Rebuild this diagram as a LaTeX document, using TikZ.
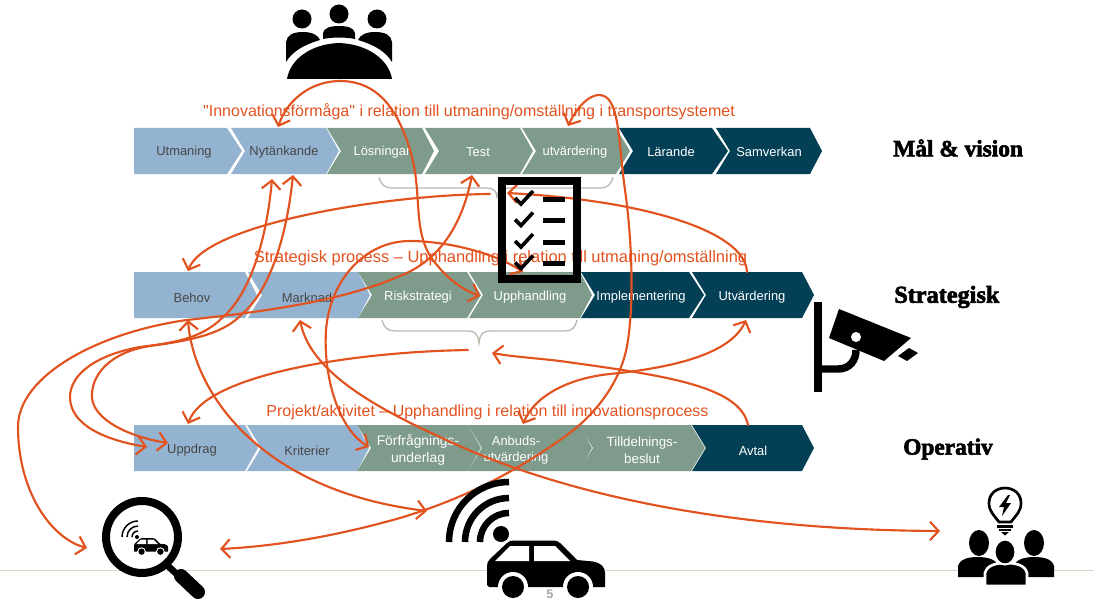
\documentclass[tikz,border=0pt]{standalone}
\usepackage{fontspec}
\setmainfont{Liberation Sans}
\newfontfamily\qfont{Liberation Sans}
\newfontfamily\labfont[FakeBold=2.6]{Liberation Serif Bold}
\usetikzlibrary{arrows.meta}
\definecolor{cblue}{HTML}{94B3D0}
\definecolor{cgreen}{HTML}{7F9B8C}
\definecolor{cdark}{HTML}{033F55}
\definecolor{corange}{HTML}{E2521F}
\definecolor{cbrace}{HTML}{BDB8B0}
\definecolor{crule}{HTML}{DAD7C5}
\tikzset{
  BL/.style={fill=cblue}, GR/.style={fill=cgreen}, DK/.style={fill=cdark},
  BLT/.style={text=black!72}, GRT/.style={text=white}, DKT/.style={text=white},
  lab/.style={font=\fontsize{9.7}{12.2}\selectfont,align=center,inner sep=0pt},
  title/.style={font=\fontsize{12}{14}\selectfont,text=corange,inner sep=0pt},
  side/.style={font=\labfont\fontsize{17.5}{20}\selectfont,anchor=west,inner sep=0pt},
  link/.style={draw=corange,line width=1.6pt,line cap=round,line join=round},
  both/.style={link,{Straight Barb[length=6.5pt,width=14pt]}-{Straight Barb[length=6.5pt,width=14pt]}},
  toend/.style={link,-{Straight Barb[length=6.5pt,width=14pt]}},
  bracep/.style={draw=cbrace,line width=1pt},
  ink/.style={fill=black},
}
% [notch]{left}{shoulder}{tip}{top}{style}
\newcommand{\chev}[6][14]{%
  \fill[#6] (#2,#5) -- (#3,#5) -- (#4,#5+23) -- (#3,#5+46) -- (#2,#5+46) -- (#2+#1,#5+23) -- cycle;
}
\newcommand{\carshape}{%
  \fill[ink] (0,45) -- (0,26) .. controls (0,23) and (1,21) .. (3,19) -- (20,3) .. controls (22,1) and (24,0.5) .. (27,0.5) -- (66,0.5) .. controls (69,0.5) and (71,1) .. (73,3) -- (90,20) -- (106,21.5) .. controls (114,23) and (118,27) .. (118,33) -- (118,47) -- (2,47) -- cycle;
  \fill[white] (8,21) -- (23,6) -- (42,6) -- (42,21) -- cycle;
  \fill[white] (47,6) -- (68,6) -- (83,21) -- (47,21) -- cycle;
  \fill[white] (26,47) circle[radius=15];
  \fill[white] (91,47) circle[radius=15];
  \fill[ink] (26,47) circle[radius=11];
  \fill[ink] (91,47) circle[radius=11];
}
\begin{document}
\begin{tikzpicture}[x=0.75pt,y=-0.75pt]
\useasboundingbox (0,0) rectangle (1094,606);
% footer
\draw[crule,line width=0.9pt] (0,570.5) -- (1094,570.5);
\node[inner sep=0pt,text=black!35,font=\bfseries\fontsize{9.5}{11}\selectfont] (pageno) at (550,594) {5};
% row 1
\chev[0]{134}{227}{242}{128}{BL}
\chev{231}{326}{339}{128}{BL}
\chev{327}{422}{434}{128}{GR}
\chev{425}{520}{533}{128}{GR}
\chev{522}{616}{630}{128}{GR}
\chev{619}{712}{728}{128}{DK}
\chev{716}{810}{822}{128}{DK}
% row 2
\chev[0]{134}{245}{257}{272}{BL}
\chev{248}{358}{370}{272}{BL}
\chev{358}{467}{481}{272}{GR}
\chev{469}{580}{592}{272}{GR}
\chev{581}{689}{704}{272}{DK}
\chev{692}{802}{814}{272}{DK}
% row 3
\chev[0]{134}{245}{258}{425}{BL}
\chev{247}{357}{369}{425}{BL}
\chev{357}{468}{481}{425}{GR}
\chev{468}{580}{592}{425}{GR}
\chev{579}{691}{705}{425}{GR}
\chev{692}{802}{814}{425}{DK}
% chevron labels
\node[lab,BLT] (Utmaning) at (184,152) {Utmaning};
\node[lab,BLT] (Nytankande) at (284,152) {Nytänkande};
\node[lab,GRT] (Losningar) at (382,152) {Lösningar};
\node[lab,GRT] (Test) at (478,152) {Test};
\node[lab,GRT] (utvardering) at (575,152) {utvärdering};
\node[lab,DKT] (Larande) at (671,152) {Lärande};
\node[lab,DKT] (Samverkan) at (769,152) {Samverkan};
\node[lab,BLT] (Behov) at (192,297.5) {Behov};
\node[lab,BLT] (Marknad) at (307,297.5) {Marknad};
\node[lab,GRT] (Riskstrategi) at (418,297.5) {Riskstrategi};
\node[lab,GRT] (Upphandling) at (530,297.5) {Upphandling};
\node[lab,DKT] (Implementering) at (641,297.5) {Implementering};
\node[lab,DKT] (Utvardering) at (752,297.5) {Utvärdering};
\node[lab,BLT] (Uppdrag) at (192,450.5) {Uppdrag};
\node[lab,BLT] (Kriterier) at (307,450.5) {Kriterier};
\node[lab,GRT,font=\fontsize{10.4}{12.4}\selectfont] (Forfragnings) at (418,450) {Förfrågnings-\\underlag};
\node[lab,GRT] (Anbuds) at (516,450) {Anbuds-\\utvärdering};
\node[lab,GRT,font=\fontsize{10}{12.4}\selectfont] (Tilldelnings) at (642,450) {Tilldelnings-\\beslut};
\node[lab,DKT] (Avtal) at (753,450.5) {Avtal};
% titles
\node[title] (t1) at (469,112) {{\qfont"}Innovationsförmåga{\qfont"} i relation till utmaning/omställning i transportsystemet};
\node[title,font=\fontsize{12.35}{14}\selectfont] (t2) at (500.5,258) {Strategisk process – Upphandling i relation till utmaning/omställning};
\node[title] (t3) at (487.5,412) {Projekt/aktivitet – Upphandling i relation till innovationsprocess};
% side labels
\node[side] (Mal) at (893,148) {Mål \& vision};
\node[side,font=\labfont\fontsize{18.2}{20}\selectfont] (Strat) at (894,297) {Strategisk};
\node[side] (Oper) at (903,449) {Operativ};
% braces
\draw[bracep] (379,177) .. controls (381,185) and (385,188) .. (392,188) -- (486,188) .. controls (493,188) and (496,190) .. (497,197) .. controls (498,190) and (501,188) .. (508,188) -- (600,188) .. controls (607,188) and (611,185) .. (613,177);
\draw[bracep] (382,320) .. controls (384,328) and (388,331) .. (395,331) -- (468,331) .. controls (475,331) and (478,334) .. (479,343) .. controls (480,334) and (483,331) .. (490,331) -- (565,331) .. controls (572,331) and (575,328) .. (577,320);
% connector ends
\coordinate (eNytTop) at (278,127);
\coordinate (eUpph) at (480,296);
\coordinate (eNytL) at (272,179);
\coordinate (eNytR) at (293,175);
\coordinate (eUppL) at (147,447);
\coordinate (eUppR) at (168,443);
\coordinate (eTest) at (472,175);
\coordinate (eLensL) at (87,548);
\coordinate (eChk) at (523,272);
\coordinate (eForf) at (369,447);
\coordinate (eUtvTop) at (747,272);
\coordinate (eChkIn) at (507,193);
\coordinate (eBr) at (490,194);
\coordinate (eBehTop) at (188,271);
\coordinate (eBr2) at (468,350);
\coordinate (eUppTop) at (188,424);
\coordinate (eAvtTop) at (748,425);
\coordinate (eBr2R) at (492,353);
\coordinate (eUtvBot) at (746,320);
\coordinate (eAnb) at (523,424);
\coordinate (ee) at (568,126);
\coordinate (eLensR) at (220,549);
\coordinate (eBehBot) at (188,320);
\coordinate (eCar) at (427,511);
\coordinate (eMarkBot) at (300,320);
\coordinate (eIdea) at (940,531);
% connectors
\draw[both] (eNytTop) .. controls (288,98) and (313,81) .. (340,81) .. controls (378,81) and (398,110) .. (410,150) .. controls (424,195) and (410,235) .. (437,265) .. controls (448,279) and (463,290) .. (eUpph);
\draw[both] (eNytL) .. controls (268,225) and (255,290) .. (222,318) .. controls (200,340) and (170,343) .. (140,347) .. controls (95,355) and (70,375) .. (70,397) .. controls (70,425) and (105,440) .. (eUppL);
\draw[both] (eNytR) .. controls (287,235) and (270,290) .. (243,313) .. controls (225,333) and (195,340) .. (150,346) .. controls (110,352) and (91,375) .. (92,397) .. controls (93,420) and (130,437) .. (eUppR);
\draw[both] (eTest) .. controls (462,225) and (440,260) .. (400,276) .. controls (340,302) and (260,312) .. (187,320) .. controls (100,332) and (18,375) .. (18,427) .. controls (18,490) and (50,538) .. (eLensL);
\draw[both] (eChk) .. controls (490,250) and (440,241) .. (410,241) .. controls (365,241) and (330,280) .. (326,330) .. controls (323,380) and (340,430) .. (eForf);
\draw[toend] (eUtvTop) .. controls (745,230) and (640,200) .. (eChkIn);
\draw[toend] (eBr) .. controls (380,195) and (205,225) .. (eBehTop);
\draw[toend] (eBr2) .. controls (350,352) and (205,375) .. (eUppTop);
\draw[toend] (eAvtTop) .. controls (740,385) and (660,375) .. (560,361) .. controls (535,358) and (515,357) .. (eBr2R);
\draw[both] (eUtvBot) .. controls (730,355) and (670,368) .. (610,374) .. controls (570,378) and (535,395) .. (eAnb);
\draw[both] (ee) .. controls (578,105) and (590,95) .. (599,95) .. controls (620,95) and (618,140) .. (625,190) .. controls (632,240) and (634,300) .. (628,340) .. controls (622,385) and (590,420) .. (560,440) .. controls (510,475) and (460,500) .. (400,518) .. controls (340,535) and (280,546) .. (eLensR);
\draw[both] (eBehBot) .. controls (193,388) and (255,490) .. (eCar);
\draw[both] (eMarkBot) .. controls (310,370) and (370,405) .. (440,437) .. controls (560,495) and (730,530) .. (eIdea);
% meeting icon
\fill[ink] (302,19) circle[radius=9.5];
\fill[ink] (339,14) circle[radius=9.5];
\fill[ink] (377,19) circle[radius=9.5];
\fill[ink] (286,62) -- (286,42) .. controls (287,35) and (293,32) .. (303,32) .. controls (312,32) and (318,35) .. (320,40) .. controls (303,45) and (292,52) .. (286,62) -- cycle;
\fill[ink] (392,62) -- (392,42) .. controls (391,35) and (385,32) .. (375,32) .. controls (366,32) and (360,35) .. (358,40) .. controls (375,45) and (386,52) .. (392,62) -- cycle;
\fill[ink] (323,39) -- (323,33) .. controls (324,28) and (330,26) .. (339,26) .. controls (348,26) and (354,28) .. (355,33) -- (355,39) .. controls (345,37) and (333,37) .. (323,39) -- cycle;
\fill[ink] (287,79) .. controls (290,60) and (310,44) .. (339,43) .. controls (368,44) and (389,60) .. (392,79) -- cycle;
% checklist
\draw[line width=6pt] (502,181) rectangle (577,279);
\foreach \yy in {0,21.5,43,64.5}{
  \draw[line width=2.7pt] (515,198+\yy) -- (521,204+\yy) -- (533,191+\yy);
  \fill[ink] (543,196.5+\yy) rectangle (565,201.5+\yy);
}
% camera
\fill[ink] (814,302) rectangle (822,392);
\fill[ink] (839,309) -- (911,338) -- (884,361) -- (829,338) -- cycle;
\fill[ink] (909,348) -- (918,353) -- (907,361) -- (898,356) -- cycle;
\draw[line width=5.6pt] (822,369) -- (838,369) .. controls (850,369) and (856,360) .. (856,350);
\fill[white] (856,337) circle[radius=5];
% magnifier
\draw[line width=6pt] (142,537) circle[radius=36];
\draw[line width=5pt] (167,565) -- (182,579);
\draw[line width=10.5pt,line cap=round] (181,576) -- (198,592);
\begin{scope}[shift={(134,538)},scale=0.29]\carshape\end{scope}
\fill[ink] (137,537) circle[radius=2];
\foreach \rr in {16,11,6}{
  \draw[line width=1.1pt] (138-\rr,537) arc[start angle=180,end angle=270,radius=\rr];
}
% car + wifi
\begin{scope}[shift={(487,540)}]\carshape\end{scope}
\fill[ink] (501,534) circle[radius=8];
\foreach \rr in {60,44,29}{
  \draw[line width=4.9pt] (509-\rr,542) arc[start angle=180,end angle=270,radius=\rr];
}
% idea icon
\draw[line width=2pt] (999,522) .. controls (993,514) and (989,511) .. (989,503) .. controls (989,494) and (996,488) .. (1005,488) .. controls (1014,488) and (1021,494) .. (1021,503) .. controls (1021,511) and (1017,514) .. (1011,522) -- cycle;
\fill[ink] (1008,495) -- (999,507) -- (1004,507) -- (1002,516) -- (1011,503) -- (1006,503) -- (1010,495) -- cycle;
\fill[ink] (997,525) rectangle (1013,527.5);
\fill[ink] (999,529) rectangle (1011,531);
\fill[ink] (1001,532) -- (1009,532) -- (1005,535.5) -- cycle;
\fill[ink] (979,543) ellipse[x radius=10,y radius=13];
\fill[ink] (1034,543) ellipse[x radius=10,y radius=13];
\fill[ink] (958,577) -- (958,566) .. controls (960,559) and (968,557) .. (978,557) .. controls (988,557) and (996,560) .. (998,565) -- (998,577) -- cycle;
\fill[ink] (1054,577) -- (1054,566) .. controls (1052,559) and (1044,557) .. (1034,557) .. controls (1024,557) and (1016,560) .. (1014,565) -- (1014,577) -- cycle;
\filldraw[fill=black,draw=white,line width=2pt] (985,586) -- (985,573) .. controls (987,565) and (996,563) .. (1006,563) .. controls (1016,563) and (1025,565) .. (1027,573) -- (1027,586) -- cycle;
\filldraw[fill=black,draw=white,line width=1.5pt] (1005,552) ellipse[x radius=10.5,y radius=12.5];
\end{tikzpicture}
\end{document}
